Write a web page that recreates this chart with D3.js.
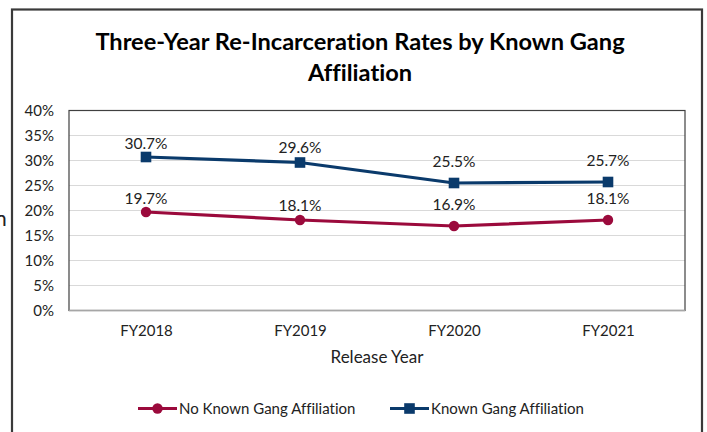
<!DOCTYPE html>
<html>
<head>
<meta charset="utf-8">
<script src="https://cdn.jsdelivr.net/npm/d3@7"></script>
<style>
  html, body { margin: 0; padding: 0; background: #fff; }
  svg { display: block; font-family: Lato, "Open Sans", sans-serif; font-variant-ligatures: none; }
</style>
</head>
<body>
<svg id="chart" width="707" height="432"></svg>
<script>
// Release years and three-year re-incarceration rates (%)
const years = ["FY2018", "FY2019", "FY2020", "FY2021"];
const noGang = [19.7, 18.1, 16.9, 18.1];
const knownGang = [30.7, 29.6, 25.5, 25.7];
const yTicks = [0, 5, 10, 15, 20, 25, 30, 35, 40];
const seriesNames = ["No Known Gang Affiliation", "Known Gang Affiliation"];

// Label lift above each marker (px), per year
const labelLift = [14, 15, 22, 22];

const W = 707, H = 432;
const svg = d3.select("#chart");
const plot = { left: 69, right: 685, top: 110.5, bottom: 310.5 };

const colors = { red: "#9b0a3c", blue: "#0a3a6b" };

svg.append("rect").attr("width", W).attr("height", H).attr("fill", "#fff");

// Fragment of surrounding page text at the left margin
svg.append("text").attr("x", -5).attr("y", 226)
  .attr("font-size", 21).attr("fill", "#222").text("n");

// Outer chart frame
svg.append("rect")
  .attr("x", 12).attr("y", 9.5).attr("width", 690).attr("height", 440)
  .attr("fill", "#fff").attr("stroke", "#3a3a3a").attr("stroke-width", 2.2);

// Title
const title = svg.append("text")
  .attr("text-anchor", "middle").attr("font-weight", 700)
  .attr("font-size", 23.6).attr("fill", "#000");
title.append("tspan").attr("x", 360).attr("y", 50).text("Three-Year Re-Incarceration Rates by Known Gang");
title.append("tspan").attr("x", 360).attr("y", 81).text("Affiliation");

const x = d3.scalePoint().domain(years)
  .range([plot.left, plot.right]).padding(0.5);
const y = d3.scaleLinear().domain([0, 40]).range([plot.bottom, plot.top]);

// Gridlines
svg.append("g")
  .selectAll("line").data(yTicks.filter(t => t > 0 && t < 40)).join("line")
  .attr("x1", plot.left).attr("x2", plot.right)
  .attr("y1", d => y(d)).attr("y2", d => y(d))
  .attr("stroke", "#d9d9d9").attr("stroke-width", 1.2);

// Plot area frame
svg.append("rect")
  .attr("x", plot.left).attr("y", plot.top)
  .attr("width", plot.right - plot.left).attr("height", plot.bottom - plot.top)
  .attr("fill", "none").attr("stroke", "#404040").attr("stroke-width", 1.2);

// Y axis labels
const yAxis = svg.append("g")
  .attr("transform", `translate(${plot.left},0)`)
  .call(d3.axisLeft(y).tickValues(yTicks).tickFormat(d => d + "%").tickSize(0).tickPadding(15));
yAxis.select(".domain").remove();
yAxis.selectAll("text").attr("font-size", 15).attr("fill", "#222")
  .attr("font-family", "Lato, sans-serif");

// X axis
const xAxis = svg.append("g")
  .attr("transform", `translate(0,${plot.bottom})`)
  .call(d3.axisBottom(x).tickSize(0).tickPadding(15));
xAxis.select(".domain").attr("stroke", "#a6a6a6").attr("stroke-width", 1.5)
  .attr("d", `M${plot.left},0H${plot.right}`);
xAxis.selectAll("text").attr("font-size", 15).attr("fill", "#222")
  .attr("font-family", "Lato, sans-serif");

// X axis title
svg.append("text").attr("x", 377).attr("y", 363)
  .attr("text-anchor", "middle").attr("font-size", 17).attr("fill", "#222")
  .text("Release Year");

const line = d3.line().x((d, i) => x(years[i])).y(d => y(d));

function drawSeries(values, color, shape) {
  const g = svg.append("g");
  g.append("path").datum(values).attr("d", line)
    .attr("fill", "none").attr("stroke", color).attr("stroke-width", 3.2)
    .attr("stroke-linejoin", "round");
  if (shape === "circle") {
    g.selectAll("circle").data(values).join("circle")
      .attr("cx", (d, i) => x(years[i])).attr("cy", d => y(d)).attr("r", 5.2)
      .attr("fill", color);
  } else {
    g.selectAll("rect").data(values).join("rect")
      .attr("x", (d, i) => x(years[i]) - 5.3).attr("y", d => y(d) - 5.3)
      .attr("width", 10.6).attr("height", 10.6).attr("fill", color);
  }
  g.selectAll("text").data(values).join("text")
    .attr("x", (d, i) => x(years[i]))
    .attr("y", (d, i) => y(d) - labelLift[i] + 5.5)
    .attr("text-anchor", "middle").attr("font-size", 15.5).attr("fill", "#222")
    .text(d => d.toFixed(1) + "%");
}

drawSeries(noGang, colors.red, "circle");
drawSeries(knownGang, colors.blue, "square");

// Legend
const legend = svg.append("g");
const legendItems = [
  { name: seriesNames[0], color: colors.red, shape: "circle", x: 138 },
  { name: seriesNames[1], color: colors.blue, shape: "square", x: 390 }
];
legendItems.forEach(it => {
  const ly = 408.5;
  legend.append("line").attr("x1", it.x).attr("x2", it.x + 39)
    .attr("y1", ly).attr("y2", ly).attr("stroke", it.color).attr("stroke-width", 3.2);
  if (it.shape === "circle") {
    legend.append("circle").attr("cx", it.x + 19.5).attr("cy", ly).attr("r", 5.2).attr("fill", it.color);
  } else {
    legend.append("rect").attr("x", it.x + 14.2).attr("y", ly - 5.3)
      .attr("width", 10.6).attr("height", 10.6).attr("fill", it.color);
  }
  legend.append("text").attr("x", it.x + 41).attr("y", ly + 5.5)
    .attr("font-size", 15).attr("fill", "#222").text(it.name);
});
</script>
</body>
</html>
